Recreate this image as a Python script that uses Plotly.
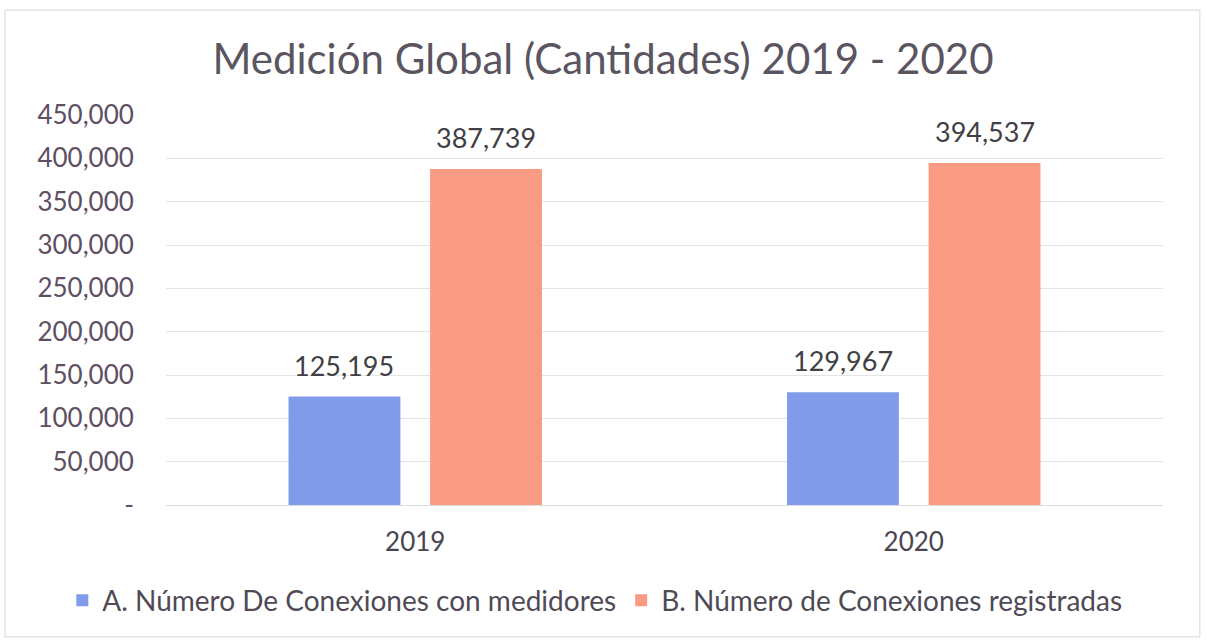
import plotly.graph_objects as go

# Data
years = ["2019", "2020"]
con_medidores = [125195, 129967]
con_registradas = [387739, 394537]
series_names = [
    "A. Número De Conexiones con medidores",
    "B. Número de Conexiones registradas",
]
tick_values = [0, 50000, 100000, 150000, 200000, 250000, 300000, 350000, 400000, 450000]
tick_labels = ["-", "50,000", "100,000", "150,000", "200,000", "250,000",
               "300,000", "350,000", "400,000", "450,000"]

BLUE = "#809be9"
ORANGE = "#f99b83"
FONT = "Lato"

fig = go.Figure()
fig.add_trace(go.Bar(x=years, y=con_medidores, name=series_names[0],
                     marker=dict(color=BLUE, line=dict(width=0)),
                     offsetgroup="a"))
fig.add_trace(go.Bar(x=years, y=con_registradas, name=series_names[1],
                     marker=dict(color=ORANGE, line=dict(width=0)),
                     offsetgroup="b"))

# Value labels above each bar
annotations = []
for trace_idx, vals in enumerate([con_medidores, con_registradas]):
    for i, v in enumerate(vals):
        annotations.append(dict(
            x=i + (-0.142 if trace_idx == 0 else 0.142), xref="x",
            y=v, yref="y", text=f"{v:,}", showarrow=False,
            yanchor="bottom", yshift=13,
            font=dict(family=FONT, size=27, color="#3f3f45"),
        ))

fig.update_layout(
    width=1206, height=642,
    margin=dict(l=166, r=43, t=115, b=137, autoexpand=False),
    paper_bgcolor="white", plot_bgcolor="white",
    barmode="group", bargap=0.432, bargroupgap=0.21,
    title=dict(text="Medición Global (Cantidades) 2019 - 2020",
               x=0.5, xanchor="center", y=0.908, yanchor="middle",
               font=dict(family=FONT, size=42, color="#5a5560")),
    font=dict(family=FONT, color="#5a5060"),
    legend=dict(orientation="h", x=-0.104, xanchor="left",
                y=-0.245, yanchor="middle",
                font=dict(family=FONT, size=28, color="#4f4a55"),
                itemwidth=30, traceorder="normal"),
    annotations=annotations,
    shapes=[dict(type="rect", xref="paper", yref="paper",
                 x0=-0.1615, x1=1.037, y0=-0.338, y1=1.269,
                 line=dict(color="#d6d6d6", width=1), layer="below")],
)

fig.update_xaxes(
    type="category", showgrid=False, showline=False, zeroline=False,
    ticks="outside", ticklen=14, tickcolor="rgba(0,0,0,0)",
    tickfont=dict(family=FONT, size=26, color="#4a4550"),
)
fig.update_yaxes(
    range=[0, 450000], tickvals=tick_values, ticktext=tick_labels,
    showgrid=True, gridcolor="#e4e4e4", gridwidth=1,
    zeroline=True, zerolinecolor="#dcdcdc", zerolinewidth=1,
    showline=False, ticks="outside", ticklen=26, tickcolor="rgba(0,0,0,0)",
    tickfont=dict(family=FONT, size=26, color="#5e4f63"),
)

fig.write_html("out.html")
